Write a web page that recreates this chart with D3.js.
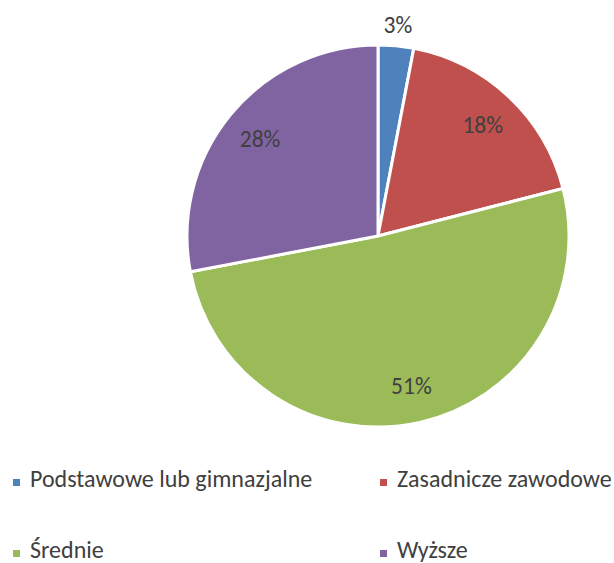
<!DOCTYPE html>
<html>
<head>
<meta charset="utf-8">
<script src="https://cdn.jsdelivr.net/npm/d3@7"></script>
<style>
  body { margin: 0; background: #fff; }
  text { font-family: Calibri, Carlito, "Open Sans", sans-serif; fill: #404040; }
</style>
</head>
<body>
<svg id="chart" width="614" height="563"></svg>
<script>
const categories = ['Podstawowe lub gimnazjalne', 'Zasadnicze zawodowe', 'Średnie', 'Wyższe'];
const values = [3, 18, 51, 28];
const colors = ['#4F81BD', '#C0504D', '#9BBB59', '#8064A2'];

var width = 614, height = 563;
var center = {x: 378, y: 236};
var radius = 191;

var svg = d3.select('#chart');

var pie = d3.pie().sort(null).value(d => d.value);
var data = categories.map((c, i) => ({name: c, value: values[i], color: colors[i]}));
var arcs = pie(data);

var arc = d3.arc().innerRadius(0).outerRadius(radius);
var labelArc = d3.arc().innerRadius(153).outerRadius(153);
var outerLabelArc = d3.arc().innerRadius(212).outerRadius(212);

var gPie = svg.append('g')
  .attr('transform', `translate(${center.x}, ${center.y})`);

gPie.selectAll('path')
  .data(arcs)
  .enter().append('path')
  .attr('d', arc)
  .attr('fill', d => d.data.color)
  .attr('stroke', '#fff')
  .attr('stroke-width', 3)
  .attr('stroke-linejoin', 'round');

gPie.selectAll('text.lbl')
  .data(arcs)
  .enter().append('text')
  .classed('lbl', true)
  .attr('transform', d => {
    let p = d.data.value < 5 ? outerLabelArc.centroid(d) : labelArc.centroid(d);
    return `translate(${p[0]}, ${p[1]})`;
  })
  .attr('text-anchor', 'middle')
  .attr('dy', '0.35em')
  .style('font-size', '23.5px')
  .text(d => d.data.value + '%');

// legend, 2 columns
var legendX = d3.scaleOrdinal().domain([0, 1]).range([13, 380]);
var legendY = d3.scaleOrdinal().domain([0, 1]).range([487, 558]);

var gLegend = svg.append('g').classed('legend', true);
var items = gLegend.selectAll('g')
  .data(data)
  .enter().append('g')
  .attr('transform', (d, i) => `translate(${legendX(i % 2)}, ${legendY(Math.floor(i / 2))})`);

items.append('rect')
  .attr('x', 0).attr('y', -8)
  .attr('width', 7).attr('height', 7)
  .attr('fill', d => d.color);

items.append('text')
  .attr('x', 17)
  .style('font-size', '24px')
  .text(d => d.name);
</script>
</body>
</html>
